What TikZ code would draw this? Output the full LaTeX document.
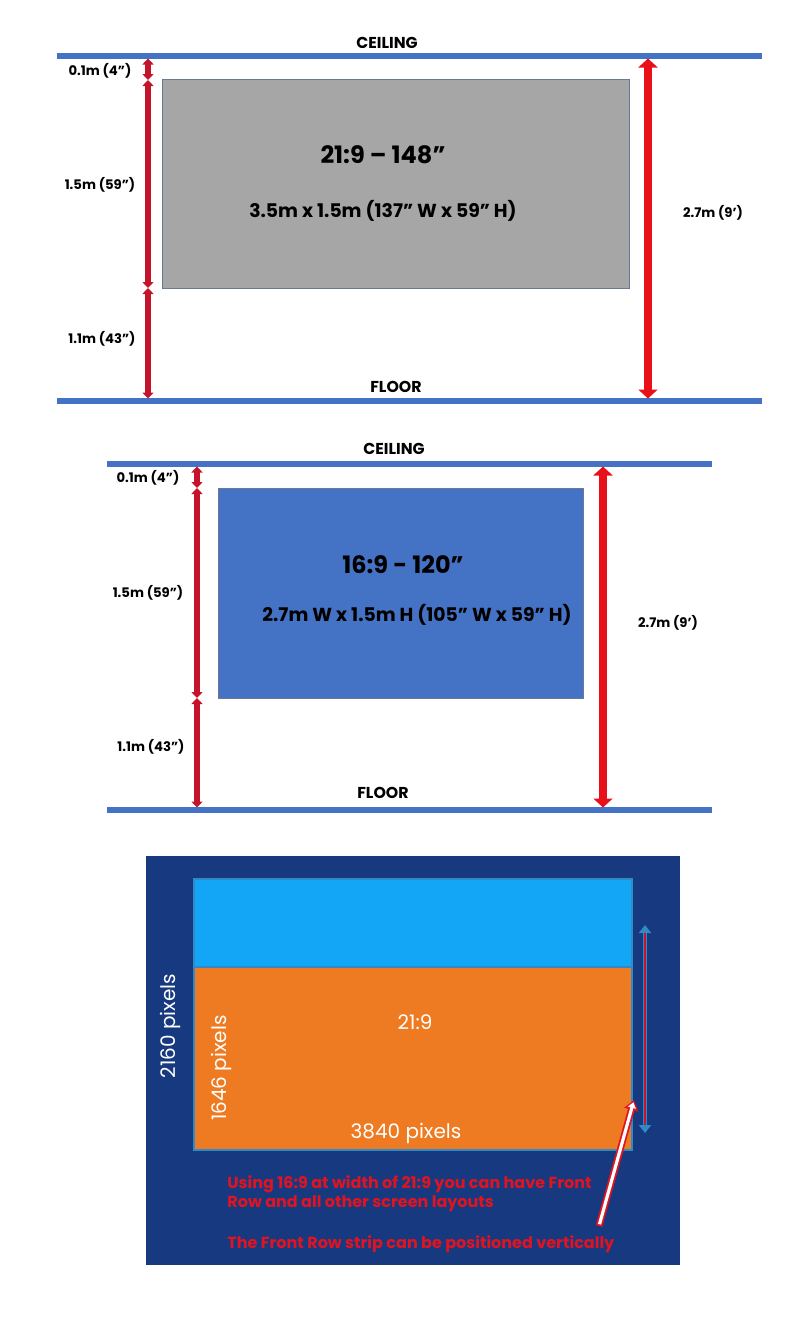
\documentclass[tikz,border=0pt]{standalone}
\usepackage{fontspec}
\setmainfont{Poppins}
\usetikzlibrary{arrows.meta}

\definecolor{levelblue}{HTML}{4472C4}
\definecolor{screengray}{HTML}{A6A6A6}
\definecolor{screenblue}{HTML}{4472C4}
\definecolor{screenedge}{HTML}{6A7896}
\definecolor{dimred}{HTML}{C4132B}
\definecolor{totalred}{HTML}{E8111A}
\definecolor{navy}{HTML}{17397F}
\definecolor{stripblue}{HTML}{13A6F6}
\definecolor{wideorange}{HTML}{EE7B22}
\definecolor{inneredge}{HTML}{2F8AC6}
\definecolor{notered}{HTML}{DF1420}

\tikzstyle{level} = [draw=levelblue, line width=2.6pt]
\tikzstyle{screen} = [draw=screenedge, line width=0.5pt, inner sep=0pt]
\tikzstyle{dim} = [draw=dimred, line width=2.6pt, {Triangle[width=5.5pt,length=3pt]}-{Triangle[width=5.5pt,length=3pt]}]
\tikzstyle{total} = [draw=totalred, line width=4pt, {Triangle[width=9.5pt,length=4.5pt]}-{Triangle[width=9.5pt,length=4.5pt]}]
\tikzstyle{tag} = [inner sep=0pt, font=\bfseries\fontsize{6.6}{8}\selectfont]
\tikzstyle{wall} = [inner sep=0pt, font=\bfseries\fontsize{7.9}{9}\selectfont]
\tikzstyle{title} = [inner sep=0pt, font=\bfseries\fontsize{12}{14}\selectfont]
\tikzstyle{size} = [inner sep=0pt, font=\bfseries\fontsize{9.4}{11}\selectfont]
\tikzstyle{pix} = [inner sep=0pt, text=white, font=\fontsize{10}{12}\selectfont]
\tikzstyle{note} = [inner sep=0pt, anchor=west, text=notered, font=\bfseries\fontsize{8}{9}\selectfont]

\begin{document}
\begin{tikzpicture}[x=0.5pt,y=-0.5pt]
  \useasboundingbox (0,0) rectangle (800,1317);

  % ceiling and floor lines
  \foreach \name/\xa/\xb/\y in {ceilA/57/762/56, floorA/57/762/401, ceilB/107/712/464, floorB/107/712/810} {
    \coordinate (\name-w) at (\xa,\y);
    \coordinate (\name-e) at (\xb,\y);
    \path[level] (\name-w) -- (\name-e);
  }
  \foreach \x/\y/\name/\txt in {387/43/ceilA-lbl/CEILING, 396/387/floorA-lbl/FLOOR, 394/449/ceilB-lbl/CEILING, 383/793/floorB-lbl/FLOOR} {
    \node[wall] (\name) at (\x,\y) {\txt};
  }

  % screens
  \node[screen, fill=screengray, minimum width=233.5pt, minimum height=104.5pt] (scrA) at (395.5,183.5) {};
  \node[screen, fill=screenblue, minimum width=182.5pt, minimum height=105pt] (scrB) at (400.5,593) {};
  \node[title] (scrA-title) at (383,155) {21:9 – 148”};
  \node[size] (scrA-size) at (383,211) {3.5m x 1.5m (137” W x 59” H)};
  \node[title] (scrB-title) at (403,565) {16:9 - 120”};
  \node[size] (scrB-size) at (417,615) {2.7m W x 1.5m H (105” W x 59” H)};

  % arrow ends
  \foreach \name/\x/\y in {a0/148/58.5, a1/148/80, a2/148/288, a3/148/398.5, tallA-top/648/58.5, tallA-bot/648/398.5,
                          b0/197/466.5, b1/197/488, b2/197/698, b3/197/807.5, tallB-top/603/466.5, tallB-bot/603/807.5} {
    \coordinate (\name) at (\x,\y);
  }
  \foreach \source/\sink in {a0/a1, a1/a2, a2/a3, b0/b1, b1/b2, b2/b3} {
    \path[dim] (\source) -- (\sink);
  }
  \path[total] (tallA-top) -- (tallA-bot);
  \path[total] (tallB-top) -- (tallB-bot);

  % dimension labels
  \foreach \x/\y/\name/\txt in {100/71/ta0/{0.1m (4”)}, 100/185/ta1/{1.5m (59”)}, 102/339/ta2/{1.1m (43”)}, 713/213/tat/{2.7m (9’)},
                               148/478/tb0/{0.1m (4”)}, 148/593/tb1/{1.5m (59”)}, 151/747/tb2/{1.1m (43”)}, 668/623/tbt/{2.7m (9’)}} {
    \node[tag] (\name) at (\x,\y) {\txt};
  }

  % pixel layout
  \node[fill=navy, inner sep=0pt, minimum width=267pt, minimum height=204.5pt] (panel) at (413,1060.5) {};
  \node[draw=inneredge, line width=0.6pt, fill=stripblue, inner sep=0pt, minimum width=219pt, minimum height=44pt] (strip) at (413,923) {};
  \node[draw=inneredge, line width=0.6pt, fill=wideorange, inner sep=0pt, minimum width=219pt, minimum height=91.5pt] (wide) at (413,1058.5) {};
  \node[pix, rotate=90] (full-h) at (170,1026) {2160 pixels};
  \node[pix, rotate=90] (wide-h) at (221,1068) {1646 pixels};
  \node[pix] (wide-lbl) at (415,1022) {21:9};
  \node[pix] (wide-w) at (406,1133) {3840 pixels};

  \coordinate (mv-t) at (645,925);
  \coordinate (mv-b) at (645,1133);
  \draw[inneredge, line width=2.4pt, {Triangle[width=6pt,length=4pt]}-{Triangle[width=6pt,length=4pt]}] (mv-t) -- (mv-b);
  \draw[dimred, line width=1.2pt, shorten <=4pt, shorten >=4pt] (mv-t) -- (mv-b);

  \coordinate (ptr-tail) at (599,1226);
  \coordinate (ptr-tip) at (634,1100);
  \draw[notered, line width=3.4pt, -{Triangle[width=7pt,length=5pt]}] (ptr-tail) -- (ptr-tip);
  \draw[white, line width=1.6pt, shorten <=0.9pt, shorten >=1.2pt, -{Triangle[width=4pt,length=2.8pt]}] (ptr-tail) -- (ptr-tip);

  \node[note] (note1) at (227,1184) {Using 16:9 at width of 21:9 you can have Front};
  \node[note] (note2) at (227,1204) {Row and all other screen layouts};
  \node[note] (note3) at (227,1244) {The Front Row strip can be positioned vertically};
\end{tikzpicture}
\end{document}
